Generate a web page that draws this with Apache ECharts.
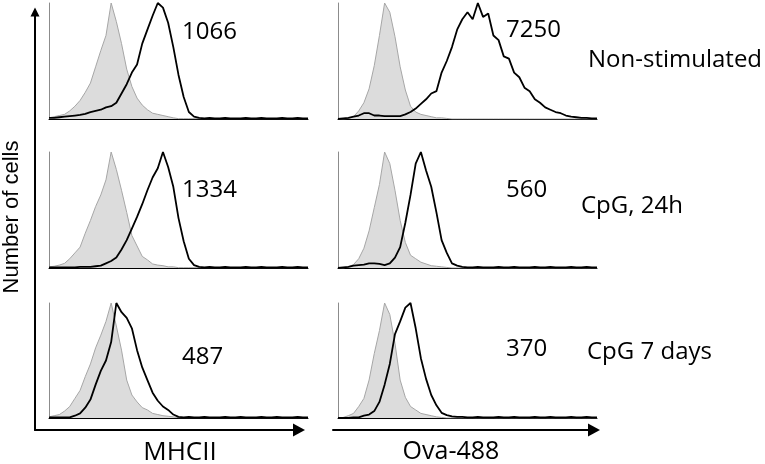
<!DOCTYPE html>
<html>
<head>
<meta charset="utf-8">
<script src="https://cdn.jsdelivr.net/npm/echarts@6/dist/echarts.min.js"></script>
<style>
  html, body { margin: 0; padding: 0; background: #fff; }
  #chart { width: 765px; height: 464px; }
</style>
</head>
<body>
<div id="chart"></div>
<script>
// fluorescence channel (0-100, arbitrary units) shared by all histograms
const channels = [0, 2, 4, 6, 8, 10, 12, 14, 16, 18, 20, 22, 24, 26, 28, 30, 32, 34, 36, 38, 40,
  42, 44, 46, 48, 50, 52, 54, 56, 58, 60, 62, 64, 66, 68, 70, 72, 74, 76, 78, 80,
  82, 84, 86, 88, 90, 92, 94, 96, 98, 100];

// % of max, grey = isotype control, black = stained sample
const mhcNonStimIso = [1, 2, 3, 4, 7, 11, 16, 23, 31, 45, 59, 72, 100, 84, 65, 43, 28, 18, 12, 8, 5, 4, 3, 2, 1,
  0.3, 0.3, 0.3, 0.3, 0.3, 0.3, 0.3, 0.3, 0.3, 0.3, 0.3, 0.3, 0.3, 0.3, 0.3, 0.3, 0.3, 0.3, 0.3, 0.3, 0.3, 0.3, 0.3, 0.3, 0.3, 0.3];
const mhcNonStimStain = [1, 1, 1.5, 2, 2.5, 3, 3.5, 4.5, 6, 7, 8, 10, 11, 14, 22, 30, 40, 47, 65, 77, 89, 100, 96, 83, 62,
  38, 19, 6, 2, 1, 0.5, 1, 0.5, 0.5, 1, 0.5, 0.5, 0.5, 1, 0.5, 0.5, 1, 0.5, 0.5, 0.5, 1, 0.5, 0.5, 1, 0.5, 0.5];
const ovaNonStimIso = [0, 0, 0.5, 2, 7, 14, 26, 46, 72, 100, 92, 71, 45, 25, 11, 6, 4, 3, 2, 1, 1, 0.5,
  0, 0, 0, 0, 0, 0, 0, 0, 0, 0, 0, 0, 0, 0, 0, 0, 0, 0, 0, 0, 0, 0, 0, 0, 0, 0, 0, 0, 0];
const ovaNonStimStain = [0, 0.5, 1, 2, 3, 5, 5, 3, 3, 2.5, 2.5, 2.5, 2.5, 4, 6, 9, 13, 17, 22, 24, 40, 50, 62, 77, 86,
  92, 86, 100, 88, 91, 72, 68, 54, 52, 40, 36, 27, 24, 17, 14, 10, 8, 6, 5, 3, 2, 1.5, 1, 1, 0.5, 0.5];

const mhc24hIso = [1, 1.5, 2.5, 4, 8, 13, 18, 30, 41, 53, 63, 76, 100, 85, 67, 48, 28, 19, 10, 7, 3.5, 2.5, 2, 1, 1,
  0.3, 0.3, 0.3, 0.3, 0.3, 0.3, 0.3, 0.3, 0.3, 0.3, 0.3, 0.3, 0.3, 0.3, 0.3, 0.3, 0.3, 0.3, 0.3, 0.3, 0.3, 0.3, 0.3, 0.3, 0.3, 0.3];
const mhc24hStain = [0.5, 0.5, 0.5, 0.5, 0.5, 0.5, 1, 1, 1, 1.5, 2, 4, 6, 9, 16, 24, 34, 44, 55, 67, 78, 86, 100, 87, 70,
  43, 23, 8, 2.5, 1, 0.5, 1, 0.5, 0.5, 1, 0.5, 0.5, 0.5, 1, 0.5, 0.5, 1, 0.5, 0.5, 0.5, 1, 0.5, 0.5, 1, 0.5, 0.5];
const ova24hIso = [0, 0, 1, 3, 8, 17, 32, 52, 72, 100, 90, 67, 41, 22, 11, 8, 5, 3.5, 2, 1.5, 1, 0.5,
  0, 0, 0, 0, 0, 0, 0, 0, 0, 0, 0, 0, 0, 0, 0, 0, 0, 0, 0, 0, 0, 0, 0, 0, 0, 0, 0, 0, 0];
const ova24hStain = [0, 0.5, 1, 2, 2.5, 3, 4, 4, 3.5, 2.5, 4, 9, 18, 39, 63, 90, 100, 84, 70, 48, 24, 13, 4, 2, 1,
  0.5, 0.5, 1, 0.5, 0.5, 0.5, 1, 0.5, 0.5, 1, 0.5, 0.5, 0.5, 1, 0.5, 0.5, 1, 0.5, 0.5, 0.5, 1, 0.5, 0.5, 1, 0.5, 0.5];

const mhc7dIso = [1, 2, 3, 6, 10, 17, 24, 36, 47, 61, 72, 84, 100, 80, 59, 33, 20, 14, 9, 7, 4, 3, 2, 1.5, 1,
  0.3, 0.3, 0.3, 0.3, 0.3, 0.3, 0.3, 0.3, 0.3, 0.3, 0.3, 0.3, 0.3, 0.3, 0.3, 0.3, 0.3, 0.3, 0.3, 0.3, 0.3, 0.3, 0.3, 0.3, 0.3, 0.3];
const mhc7dStain = [0.5, 0.5, 0.5, 0.5, 0.5, 2, 4, 9, 16, 29, 41, 50, 66, 100, 92, 87, 78, 59, 44, 33, 22, 15, 10, 7, 3,
  1, 0.5, 1, 0.5, 0.5, 1, 0.5, 0.5, 0.5, 1, 0.5, 0.5, 1, 0.5, 0.5, 0.5, 1, 0.5, 0.5, 1, 0.5, 0.5, 0.5, 1, 0.5, 0.5];
const ova7dIso = [0, 0.5, 2, 4, 10, 17, 33, 56, 76, 100, 90, 65, 33, 18, 10, 7, 4, 3, 2, 1, 0.5,
  0, 0, 0, 0, 0, 0, 0, 0, 0, 0, 0, 0, 0, 0, 0, 0, 0, 0, 0, 0, 0, 0, 0, 0, 0, 0, 0, 0, 0, 0];
const ova7dStain = [0, 0, 0, 0.5, 0.5, 2, 3, 6, 14, 29, 47, 73, 84, 96, 100, 78, 52, 34, 20, 11, 4.5, 2.5, 1.5, 1, 1,
  0.5, 0.5, 1, 0.5, 0.5, 0.5, 1, 0.5, 0.5, 1, 0.5, 0.5, 0.5, 1, 0.5, 0.5, 1, 0.5, 0.5, 0.5, 1, 0.5, 0.5, 1, 0.5, 0.5];

// labels
const conditions = ['Non-stimulated', 'CpG, 24h', 'CpG 7 days'];
const markers = ['MHCII', 'Ova-488'];
const mhcMfi = ['1066', '1334', '487'];
const ovaMfi = ['7250', '560', '370'];

// panels: [row][col] -> iso / stain
const panels = [
  [[mhcNonStimIso, mhcNonStimStain], [ovaNonStimIso, ovaNonStimStain]],
  [[mhc24hIso, mhc24hStain], [ova24hIso, ova24hStain]],
  [[mhc7dIso, mhc7dStain], [ova7dIso, ova7dStain]]
];

// layout (pixels)
const colLeft = [49, 338];
const rowTop = [3, 152, 303];
const rowHeight = [116, 116, 115];
const panelWidth = 259;
const mfiX = [182, 506];
const mfiY = [[32, 190, 357], [30, 190, 349]];
const condX = [588, 581, 587];
const condY = [60, 206, 352];

const chart = echarts.init(document.getElementById('chart'));

const grids = [], xAxes = [], yAxes = [], series = [];
panels.forEach((row, r) => {
  row.forEach((pair, c) => {
    const idx = grids.length;
    grids.push({ left: colLeft[c], top: rowTop[r], width: panelWidth, height: rowHeight[r] });
    xAxes.push({
      gridIndex: idx, type: 'category', data: channels, boundaryGap: false,
      axisLine: { lineStyle: { color: '#000', width: 1 } },
      axisTick: { show: false }, axisLabel: { show: false }, splitLine: { show: false }
    });
    yAxes.push({
      gridIndex: idx, type: 'value', min: 0, max: 100,
      axisLine: { show: true, lineStyle: { color: '#8c8c8c', width: 1 } },
      axisTick: { show: false }, axisLabel: { show: false }, splitLine: { show: false }
    });
    series.push({
      type: 'line', xAxisIndex: idx, yAxisIndex: idx, data: pair[0],
      showSymbol: false, smooth: false,
      lineStyle: { color: '#a6a6a6', width: 1 },
      areaStyle: { color: '#dcdcdc', opacity: 1 }
    });
    series.push({
      type: 'line', xAxisIndex: idx, yAxisIndex: idx, data: pair[1],
      showSymbol: false, smooth: false,
      lineStyle: { color: '#000', width: 1.8 }
    });
  });
});

// overall arrow axes
const arrowAxis = (gi, size) => ({
  gridIndex: gi, type: 'value', min: 0, max: 1,
  axisLine: { show: true, symbol: ['none', 'triangle'], symbolSize: size, lineStyle: { color: '#000', width: 2 } },
  axisTick: { show: false }, axisLabel: { show: false }, splitLine: { show: false }
});
grids.push({ left: 35, top: 12, width: 264, height: 418 });
xAxes.push(arrowAxis(6, [13, 12]));
yAxes.push(arrowAxis(6, [9, 9]));
grids.push({ left: 333, top: 12, width: 261, height: 418 });
xAxes.push(arrowAxis(7, [13, 12]));
yAxes.push(Object.assign(arrowAxis(7, [9, 9]), { show: false }));

const labelFont = '24px "Open Sans"';
const graphics = [];
[mhcMfi, ovaMfi].forEach((vals, c) => {
  vals.forEach((v, r) => {
    graphics.push({ type: 'text', x: mfiX[c], y: mfiY[c][r],
      style: { text: v, font: labelFont, fill: '#000', align: 'left', verticalAlign: 'middle' } });
  });
});
conditions.forEach((t, r) => {
  graphics.push({ type: 'text', x: condX[r], y: condY[r],
    style: { text: t, font: labelFont, fill: '#000', align: 'left', verticalAlign: 'middle' } });
});
graphics.push({ type: 'text', x: 180, y: 453,
  style: { text: markers[0], font: '26px "Open Sans"', fill: '#000', align: 'center', verticalAlign: 'middle' } });
graphics.push({ type: 'text', x: 451, y: 452,
  style: { text: markers[1], font: '25px "Open Sans"', fill: '#000', align: 'center', verticalAlign: 'middle' } });
graphics.push({ type: 'text', x: 12, y: 217, rotation: Math.PI / 2,
  style: { text: 'Number of cells', font: '22px "Liberation Sans"', fill: '#000', align: 'center', verticalAlign: 'middle' } });

chart.setOption({
  animation: false,
  backgroundColor: '#fff',
  grid: grids,
  xAxis: xAxes,
  yAxis: yAxes,
  series: series,
  graphic: graphics
});
</script>
</body>
</html>
